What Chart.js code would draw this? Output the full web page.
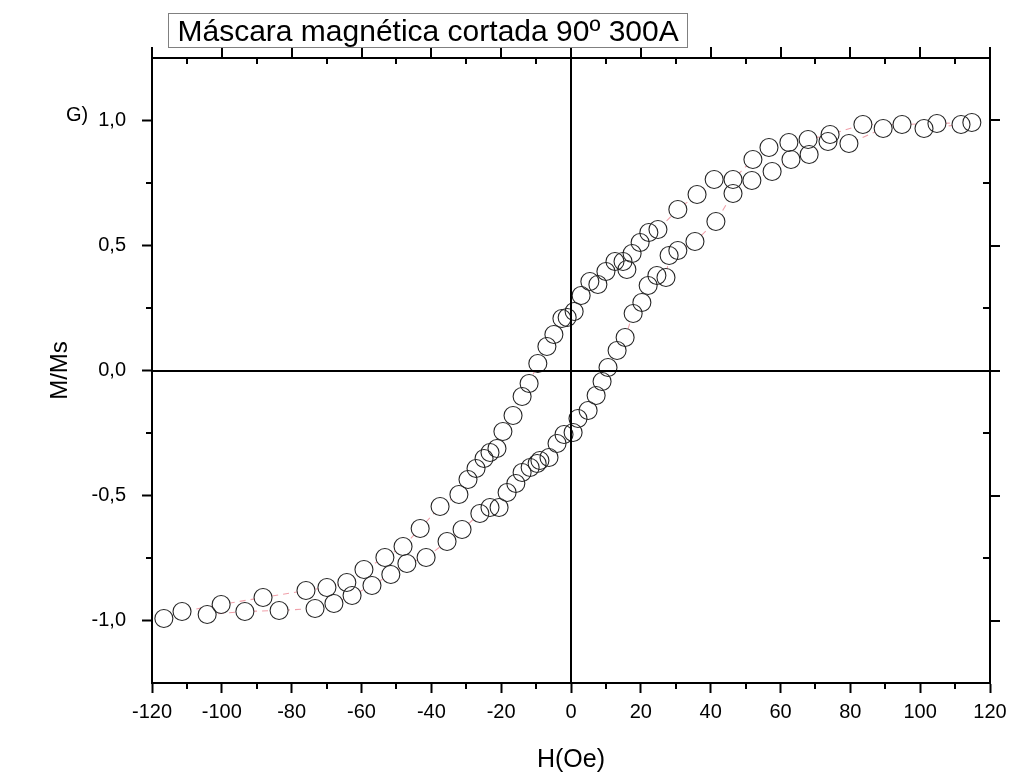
<!DOCTYPE html>
<html>
<head>
<meta charset="utf-8">
<script src="https://cdn.jsdelivr.net/npm/chart.js@4"></script>
<style>
  html, body { margin: 0; padding: 0; background: #ffffff; }
  #wrap { width: 1015px; height: 781px; }
</style>
</head>
<body>
<div id="wrap"><canvas id="c" width="1015" height="781"></canvas></div>
<script>
// ---- texts ----
const chartTitle = 'Máscara magnética cortada 90º 300A';
const panelLabel = 'G)';
const xAxisTitle = 'H(Oe)';
const yAxisTitle = 'M/Ms';

// ---- axis ticks ----
const xMajorTicks = [-120, -100, -80, -60, -40, -20, 0, 20, 40, 60, 80, 100, 120];
const xMinorTicks = [-110, -90, -70, -50, -30, -10, 10, 30, 50, 70, 90, 110];
const yMajorTicks = [-1, -0.5, 0, 0.5, 1];
const yMinorTicks = [-0.75, -0.25, 0.25, 0.75];

// ---- hysteresis loop: descending branch (H swept from + to -) ----
const hDown = [114.8, 104.8, 94.8, 83.6, 74.2, 67.9, 62.4, 56.7, 52.1, 46.4,
               41.0, 36.1, 30.6, 24.9, 22.3, 19.8, 17.5, 16.0, 14.9, 12.6,
               10.0, 7.7, 5.4, 2.9, 0.9, -1.1, -2.6, -4.9, -6.9, -9.5,
               -12.0, -14.0, -16.6, -19.5, -21.2, -23.2, -24.9, -27.2, -29.5, -32.1,
               -37.5, -43.2, -48.1, -53.3, -59.3, -64.2, -69.9, -75.9, -88.2, -100.2,
               -111.4, -116.6];
const mDown = [0.992, 0.988, 0.984, 0.984, 0.944, 0.924, 0.912, 0.892, 0.844, 0.764,
               0.764, 0.704, 0.644, 0.564, 0.552, 0.512, 0.468, 0.404, 0.436, 0.436,
               0.396, 0.344, 0.356, 0.300, 0.236, 0.212, 0.208, 0.144, 0.096, 0.028,
               -0.052, -0.104, -0.180, -0.244, -0.312, -0.328, -0.352, -0.392, -0.436, -0.496,
               -0.544, -0.632, -0.704, -0.748, -0.796, -0.848, -0.868, -0.880, -0.908, -0.936,
               -0.964, -0.992];

// ---- hysteresis loop: ascending branch (H swept from - to +) ----
const hUp = [-104.2, -93.4, -83.6, -73.3, -67.9, -62.7, -57.0, -51.6, -47.0, -41.5,
             -35.5, -31.2, -26.1, -23.2, -20.6, -18.3, -15.8, -14.0, -11.7, -9.7,
             -8.9, -6.3, -4.0, -2.0, 0.6, 2.0, 4.9, 7.2, 8.9, 10.6,
             13.2, 15.5, 17.8, 20.3, 22.1, 24.6, 27.2, 28.1, 30.6, 35.5,
             41.5, 46.4, 51.8, 57.6, 63.0, 68.2, 73.6, 79.6, 89.4, 101.1,
             111.7];
const mUp = [-0.976, -0.964, -0.960, -0.952, -0.932, -0.900, -0.860, -0.816, -0.772, -0.748,
             -0.684, -0.636, -0.572, -0.548, -0.548, -0.488, -0.452, -0.408, -0.388, -0.372,
             -0.360, -0.348, -0.292, -0.256, -0.248, -0.192, -0.160, -0.100, -0.044, 0.012,
             0.080, 0.132, 0.228, 0.272, 0.340, 0.380, 0.372, 0.460, 0.480, 0.516,
             0.596, 0.708, 0.760, 0.796, 0.844, 0.864, 0.916, 0.908, 0.968, 0.968,
             0.984];

const toPoints = (hs, ms) => hs.map((h, i) => ({ x: h, y: ms[i] }));
const downPts = toPoints(hDown, mDown);
const upPts = toPoints(hUp, mUp);

const FONT = "'Liberation Sans', Arial, sans-serif";
const SYMBOL_R = 9;

// connecting line (drawn lowest)
const lineStyle = (data) => ({
  data, showLine: true, pointRadius: 0, borderColor: '#f0a0aa', borderWidth: 1.1,
  borderDash: [6, 5], fill: false, order: 3
});
// white discs hide the connecting line inside each symbol
const discStyle = (data) => ({
  data, showLine: false, pointRadius: SYMBOL_R, pointBackgroundColor: '#ffffff',
  pointBorderWidth: 0, pointBorderColor: 'rgba(0,0,0,0)', order: 2
});
// hollow circle outlines (drawn on top)
const ringStyle = (data) => ({
  data, showLine: false, pointRadius: SYMBOL_R, pointBackgroundColor: 'rgba(0,0,0,0)',
  pointBorderWidth: 1.1, pointBorderColor: '#262626', order: 1
});

// frame: top/right axes, minor ticks, zero lines, title box, panel letter
const framePlugin = {
  id: 'frame',
  afterDatasetsDraw(chart) {
    const { ctx, chartArea: a, scales: { x, y } } = chart;
    ctx.save();
    ctx.strokeStyle = '#000';
    ctx.lineCap = 'butt';

    // zero lines
    ctx.lineWidth = 2;
    const x0 = Math.round(x.getPixelForValue(0));
    const y0 = Math.round(y.getPixelForValue(0));
    ctx.beginPath();
    ctx.moveTo(a.left, y0); ctx.lineTo(a.right, y0);
    ctx.moveTo(x0, a.top); ctx.lineTo(x0, a.bottom);
    ctx.stroke();

    // top and right axis lines
    ctx.beginPath();
    ctx.moveTo(a.left - 1, a.top); ctx.lineTo(a.right + 1, a.top);
    ctx.moveTo(a.right, a.top); ctx.lineTo(a.right, a.bottom + 1);
    ctx.stroke();

    // top axis: major ticks out, minor ticks in
    ctx.beginPath();
    xMajorTicks.forEach(v => {
      const p = Math.round(x.getPixelForValue(v));
      ctx.moveTo(p, a.top); ctx.lineTo(p, a.top - 11);
    });
    xMinorTicks.forEach(v => {
      const p = Math.round(x.getPixelForValue(v));
      ctx.moveTo(p, a.top); ctx.lineTo(p, a.top + 6);
      // bottom minor ticks point outwards
      ctx.moveTo(p, a.bottom); ctx.lineTo(p, a.bottom + 6);
    });
    // right axis: major ticks out, minor ticks in
    yMajorTicks.forEach(v => {
      const p = Math.round(y.getPixelForValue(v));
      ctx.moveTo(a.right, p); ctx.lineTo(a.right + 10, p);
    });
    yMinorTicks.forEach(v => {
      const p = Math.round(y.getPixelForValue(v));
      ctx.moveTo(a.right, p); ctx.lineTo(a.right - 7, p);
      // left minor ticks point outwards
      ctx.moveTo(a.left, p); ctx.lineTo(a.left - 6, p);
    });
    ctx.stroke();

    // title box
    ctx.font = '30px ' + FONT;
    const tw = ctx.measureText(chartTitle).width;
    const bx = 168.5, by = 13.5, bh = 34;
    const bw = Math.round(tw + 18);
    ctx.fillStyle = '#ffffff';
    ctx.fillRect(bx, by, bw, bh);
    ctx.strokeStyle = '#808080';
    ctx.lineWidth = 1;
    ctx.strokeRect(bx, by, bw, bh);
    ctx.fillStyle = '#000';
    ctx.textAlign = 'left';
    ctx.textBaseline = 'alphabetic';
    ctx.fillText(chartTitle, bx + 9, 41);

    // panel letter
    ctx.font = '20px ' + FONT;
    ctx.fillText(panelLabel, 66, 121);
    ctx.restore();
  }
};

new Chart(document.getElementById('c'), {
  type: 'scatter',
  data: {
    datasets: [
      ringStyle(downPts), ringStyle(upPts),
      discStyle(downPts), discStyle(upPts),
      lineStyle(downPts), lineStyle(upPts)
    ]
  },
  options: {
    responsive: false,
    animation: false,
    events: [],
    layout: { padding: { top: 58, right: 25, left: 0, bottom: 0 } },
    plugins: { legend: { display: false }, tooltip: { enabled: false }, title: { display: false } },
    scales: {
      x: {
        type: 'linear', position: 'bottom', min: -120, max: 120,
        afterBuildTicks: s => { s.ticks = xMajorTicks.map(v => ({ value: v })); },
        afterFit: s => { s.height = 98; },
        ticks: {
          color: '#000', font: { family: FONT, size: 20 }, padding: 7,
          maxRotation: 0, autoSkip: false,
          callback: v => String(v)
        },
        grid: { drawOnChartArea: false, drawTicks: true, tickLength: 10, tickWidth: 2, tickColor: '#000' },
        border: { display: true, color: '#000', width: 2 },
        title: { display: true, text: xAxisTitle, color: '#000', font: { family: FONT, size: 25 }, padding: { top: 0, bottom: 6 } }
      },
      y: {
        type: 'linear', position: 'left', min: -1.25, max: 1.25,
        afterBuildTicks: s => { s.ticks = yMajorTicks.map(v => ({ value: v })); },
        afterFit: s => { s.width = 152; },
        ticks: {
          color: '#000', font: { family: FONT, size: 20 }, padding: 16,
          callback: v => v.toFixed(1).replace('.', ',')
        },
        grid: { drawOnChartArea: false, drawTicks: true, tickLength: 10, tickWidth: 2, tickColor: '#000' },
        border: { display: true, color: '#000', width: 2 },
        title: { display: true, text: yAxisTitle, color: '#000', font: { family: FONT, size: 24 }, padding: { top: 46, bottom: 0 } }
      }
    }
  },
  plugins: [framePlugin]
});
</script>
</body>
</html>
